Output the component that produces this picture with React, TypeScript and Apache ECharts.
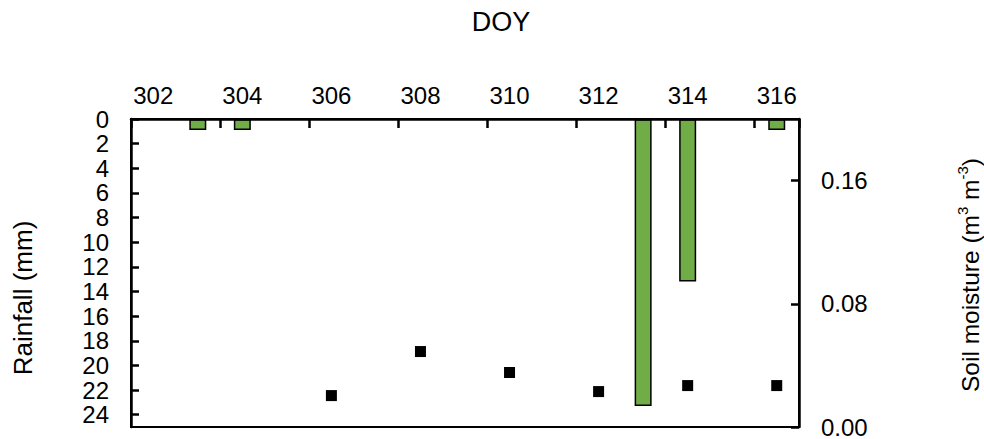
import React, { useEffect, useRef } from "react";
import * as echarts from "echarts";

const categories = ["302", "303", "304", "305", "306", "307", "308", "309", "310", "311", "312", "313", "314", "315", "316"];
const rainfall = [null, 0.9, 0.9, null, null, null, null, null, null, null, null, 23.3, 13.2, null, 0.9];
const soilMoisture = [null, null, null, null, 0.0204, null, 0.049, null, 0.0354, null, 0.023, null, 0.0269, null, 0.0269];

const FONT = "Liberation Sans";

export default function App() {
  const ref = useRef<HTMLDivElement>(null);
  useEffect(() => {
    if (!ref.current) return;
    const chart = echarts.init(ref.current, null, { renderer: "svg" });
    const scatterData = soilMoisture
      .map((v, i) => (v === null ? null : [categories[i], v]))
      .filter((d) => d !== null);
    chart.setOption({
      animation: false,
      backgroundColor: "#fff",
      grid: {
        left: 131,
        right: 185,
        top: 119,
        bottom: 12,
        show: true,
        borderColor: "#000",
        borderWidth: 2,
        backgroundColor: "transparent",
      },
      xAxis: {
        type: "category",
        position: "top",
        data: categories,
        boundaryGap: true,
        axisLine: { show: true, onZero: false, lineStyle: { color: "#000", width: 2.5 } },
        axisTick: { show: true, inside: true, interval: 1, length: 9, lineStyle: { color: "#000", width: 2.5 } },
        axisLabel: { interval: 1, color: "#000", fontSize: 24, fontFamily: FONT, margin: 12 },
        splitLine: { show: false },
        z: 10,
      },
      yAxis: [
        {
          type: "value",
          inverse: true,
          min: 0,
          max: 25,
          interval: 2,
          position: "left",
          axisLine: { show: true, onZero: false, lineStyle: { color: "#000", width: 2.5 } },
          axisTick: { show: true, inside: true, length: 8, lineStyle: { color: "#000", width: 2.5 } },
          axisLabel: { color: "#000", fontSize: 24, fontFamily: FONT, margin: 22, showMaxLabel: false, lineHeight: 24 },
          splitLine: { show: false },
          z: 10,
        },
        {
          type: "value",
          min: 0,
          max: 0.2,
          interval: 0.08,
          position: "right",
          axisLine: { show: true, onZero: false, lineStyle: { color: "#000", width: 2.5 } },
          axisTick: { show: true, inside: true, length: 8, lineStyle: { color: "#000", width: 2.5 } },
          axisLabel: {
            color: "#000",
            fontSize: 24,
            fontFamily: FONT,
            margin: 22,
            showMaxLabel: false,
            formatter: (v: number) => v.toFixed(2),
          },
          splitLine: { show: false },
          z: 10,
        },
      ],
      series: [
        {
          type: "bar",
          name: "Rainfall",
          data: rainfall,
          xAxisIndex: 0,
          yAxisIndex: 0,
          barWidth: 17,
          itemStyle: { color: "#70AD47", borderColor: "#000", borderWidth: 1.5 },
        },
        {
          type: "scatter",
          name: "Soil moisture",
          data: scatterData,
          xAxisIndex: 0,
          yAxisIndex: 1,
          symbol: "rect",
          symbolSize: 11,
          itemStyle: { color: "#000", opacity: 1 },
        },
      ],
      graphic: [
        {
          type: "text",
          x: 501,
          y: 22,
          style: { text: "DOY", fontSize: 27, fontFamily: FONT, fill: "#000", align: "center", verticalAlign: "middle" },
        },
        {
          type: "text",
          x: 23,
          y: 298,
          rotation: Math.PI / 2,
          style: { text: "Rainfall (mm)", fontSize: 26, fontFamily: FONT, fill: "#000", align: "center", verticalAlign: "middle" },
        },
        {
          type: "text",
          x: 970,
          y: 275,
          rotation: Math.PI / 2,
          style: {
            text: "Soil moisture (m{sup|3} m{sup|-3})",
            fontSize: 24.5,
            fontFamily: FONT,
            fill: "#000",
            align: "center",
            verticalAlign: "middle",
            rich: {
              sup: { fontSize: 15, fontFamily: FONT, fill: "#000", verticalAlign: "top", lineHeight: 30 },
            },
            lineHeight: 30,
          },
        },
      ],
    });
    return () => chart.dispose();
  }, []);
  return <div ref={ref} style={{ position: "fixed", left: 0, top: 0, width: 984, height: 439 }} />;
}
